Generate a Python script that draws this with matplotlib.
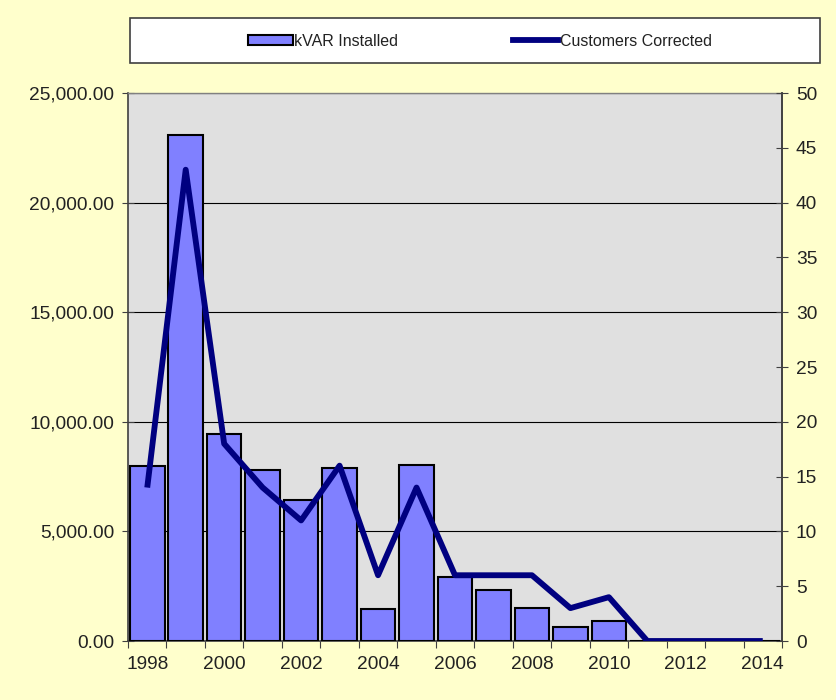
import matplotlib
matplotlib.use("Agg")
import matplotlib.pyplot as plt
from matplotlib.patches import Rectangle, Patch
from matplotlib.lines import Line2D
from matplotlib.ticker import FuncFormatter
import numpy as np

plt.rcParams['font.family'] = ['Liberation Sans', 'DejaVu Sans']

years = list(range(1998, 2015))
kvar_installed = [8000, 23100, 9450, 7800, 6450, 7900, 1450, 8050, 2900, 2330, 1500, 650, 920, 0, 0, 0, 0]
customers_corrected = [14, 43, 18, 14, 11, 16, 6, 14, 6, 6, 6, 3, 4, 0, 0, 0, 0]
label_years = [1998, 2000, 2002, 2004, 2006, 2008, 2010, 2012, 2014]

W, H = 836, 700
fig = plt.figure(figsize=(W / 100, H / 100), dpi=100, facecolor='#FFFFCC')
ax = fig.add_axes([128 / W, (H - 641) / H, (782 - 128) / W, (641 - 93) / H])
ax.set_facecolor('#E0E0E0')

x = np.arange(len(years))
ax.bar(x, kvar_installed, width=0.9, color='#8080FF', edgecolor='black', linewidth=1.5, zorder=3)
ax.set_xlim(-0.5, len(years) - 0.5)
ax.set_ylim(0, 25000)
ax.set_yticks(np.arange(0, 25001, 5000))
ax.yaxis.set_major_formatter(FuncFormatter(lambda v, p: f"{v:,.2f}"))
ax.grid(axis='y', color='black', linewidth=0.8, zorder=1)
ax.set_axisbelow(True)

ax.set_xticks(np.arange(-0.5, len(years), 1.0))
ax.set_xticklabels([])
ax.set_xticks([years.index(y) for y in label_years], minor=True)
ax.set_xticklabels([str(y) for y in label_years], minor=True)
ax.tick_params(axis='x', which='major', direction='out', length=5, color='#404040')
ax.tick_params(axis='x', which='minor', length=0, pad=11, labelsize=13.8, labelcolor='#222222')
ax.tick_params(axis='y', direction='inout', length=8, color='#404040', labelsize=13.8, labelcolor='#222222', pad=6)

for s in ['left', 'bottom', 'right']:
    ax.spines[s].set_color('#404040')
    ax.spines[s].set_linewidth(1.2)
ax.spines['top'].set_color('#808080')
ax.spines['top'].set_linewidth(1.0)

ax2 = ax.twinx()
ax2.plot(x, customers_corrected, color='#000080', linewidth=4.2, zorder=4, solid_capstyle='butt')
ax2.set_ylim(0, 50)
ax2.set_yticks(np.arange(0, 51, 5))
ax2.tick_params(axis='y', direction='inout', length=8, color='#404040', labelsize=13.8, labelcolor='#222222', pad=6)
for s in ['left', 'bottom', 'right', 'top']:
    ax2.spines[s].set_visible(False)
ax2.spines['right'].set_visible(True)
ax2.spines['right'].set_color('#404040')
ax2.spines['right'].set_linewidth(1.2)

# legend box
rect = Rectangle((130 / W, (H - 63) / H), (820 - 130) / W, (63 - 18) / H,
                 transform=fig.transFigure, facecolor='white', edgecolor='#404040',
                 linewidth=1.2, zorder=0)
fig.patches.append(rect)
handles = [Patch(facecolor='#8080FF', edgecolor='black', linewidth=1.5),
           Line2D([0], [0], color='#000080', linewidth=4.2)]
leg = fig.legend(handles, ['kVAR Installed', 'Customers Corrected'], ncol=2,
                 loc='center left', bbox_to_anchor=(248 / W, (H - 41) / H),
                 frameon=False, fontsize=11.5, handlelength=2.8, handleheight=0.55,
                 handletextpad=0.1, columnspacing=7.2, borderpad=0, borderaxespad=0)
for t in leg.get_texts():
    t.set_color('#222222')

fig.savefig('out.png', dpi=100, facecolor=fig.get_facecolor())
